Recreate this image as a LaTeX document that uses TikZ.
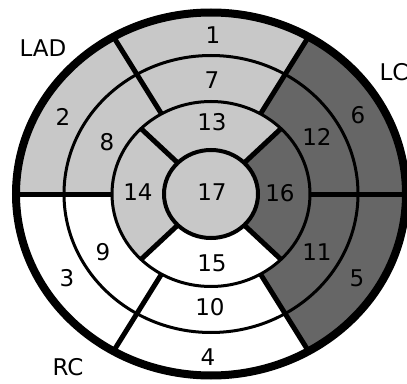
\documentclass[tikz,border=0pt]{standalone}
\usepackage{fontspec}
\setmainfont{DejaVu Sans}
\definecolor{segl}{RGB}{200,200,200}
\definecolor{segd}{RGB}{102,102,102}
% ring radii (horizontal / vertical)
\def\Ra{195pt}\def\ra{181.5pt}
\def\Rb{147pt}\def\rb{138.5pt}
\def\Rc{99pt}\def\rc{92.5pt}
\def\Rd{47pt}\def\rd{44pt}
% one ring sector: colour, start, end, outer rx, outer ry, inner rx, inner ry
\newcommand\bullseg[7]{%
  \fill[#1] (#2:{#4} and {#5}) arc[start angle=#2,end angle=#3,x radius=#4,y radius=#5]
    -- (#3:{#6} and {#7}) arc[start angle=#3,end angle=#2,x radius=#6,y radius=#7] -- cycle;}
\begin{document}
\begin{tikzpicture}[x=1pt,y=1pt,
  lbl/.style={font=\fontsize{23}{23}\selectfont, inner sep=0pt, text=black},
  ringline/.style={line width=3pt},
  spoke/.style={line width=5pt},
  rim/.style={line width=8pt}]
\useasboundingbox (-211,-189) rectangle (196,194);
\clip (-211,-189) rectangle (196,194);
\fill[white] (-211,-189) rectangle (196,194);

% basal ring
\bullseg{segl}{60}{120}{\Ra}{\ra}{\Rb}{\rb}
\bullseg{segl}{120}{180}{\Ra}{\ra}{\Rb}{\rb}
\bullseg{white}{180}{240}{\Ra}{\ra}{\Rb}{\rb}
\bullseg{white}{240}{300}{\Ra}{\ra}{\Rb}{\rb}
\bullseg{segd}{300}{360}{\Ra}{\ra}{\Rb}{\rb}
\bullseg{segd}{0}{60}{\Ra}{\ra}{\Rb}{\rb}
% mid ring
\bullseg{segl}{60}{120}{\Rb}{\rb}{\Rc}{\rc}
\bullseg{segl}{120}{180}{\Rb}{\rb}{\Rc}{\rc}
\bullseg{white}{180}{240}{\Rb}{\rb}{\Rc}{\rc}
\bullseg{white}{240}{300}{\Rb}{\rb}{\Rc}{\rc}
\bullseg{segd}{300}{360}{\Rb}{\rb}{\Rc}{\rc}
\bullseg{segd}{0}{60}{\Rb}{\rb}{\Rc}{\rc}
% apical ring
\bullseg{segl}{45}{135}{\Rc}{\rc}{\Rd}{\rd}
\bullseg{segl}{135}{225}{\Rc}{\rc}{\Rd}{\rd}
\bullseg{white}{225}{315}{\Rc}{\rc}{\Rd}{\rd}
\bullseg{segd}{-45}{45}{\Rc}{\rc}{\Rd}{\rd}
% apex
\fill[segl] (0,0) ellipse[x radius=\Rd, y radius=\rd];

% ring borders
\draw[ringline] (0,0) ellipse[x radius=\Rb, y radius=\rb];
\draw[ringline] (0,0) ellipse[x radius=\Rc, y radius=\rc];
% segment borders
\foreach \a in {0,60,...,300}
  \draw[spoke] (\a:{\Ra} and {\ra}) -- (\a:{\Rc} and {\rc});
\foreach \a in {45,135,225,315}
  \draw[spoke] (\a:{\Rc} and {\rc}) -- (\a:{\Rd} and {\rd});
\draw[line width=4pt] (0,0) ellipse[x radius=\Rd, y radius=\rd];
\draw[rim] (0,0) ellipse[x radius=\Ra, y radius=\ra];

% segment numbers
\node[lbl] (s1)  at (2,159)    {1};
\node[lbl] (s2)  at (-148,77)  {2};
\node[lbl] (s3)  at (-144,-84) {3};
\node[lbl] (s4)  at (-3,-163)  {4};
\node[lbl] (s5)  at (146,-84)  {5};
\node[lbl] (s6)  at (147,79)   {6};
\node[lbl] (s7)  at (1,114)    {7};
\node[lbl] (s8)  at (-104,52)  {8};
\node[lbl] (s9)  at (-108,-58) {9};
\node[lbl] (s10) at (-1,-113)  {10};
\node[lbl] (s11) at (106,-58)  {11};
\node[lbl] (s12) at (106,57)   {12};
\node[lbl] (s13) at (1,72)     {13};
\node[lbl] (s14) at (-73,2)    {14};
\node[lbl] (s15) at (1,-69)    {15};
\node[lbl] (s16) at (69,1)     {16};
\node[lbl] (s17) at (1,2)      {17};

% territory labels
\node[lbl] (lad) at (-168,146) {LAD};
\node[lbl] (lc)  at (183,122)  {LC};
\node[lbl] (rc)  at (-143,-173) {RC};
\end{tikzpicture}
\end{document}
